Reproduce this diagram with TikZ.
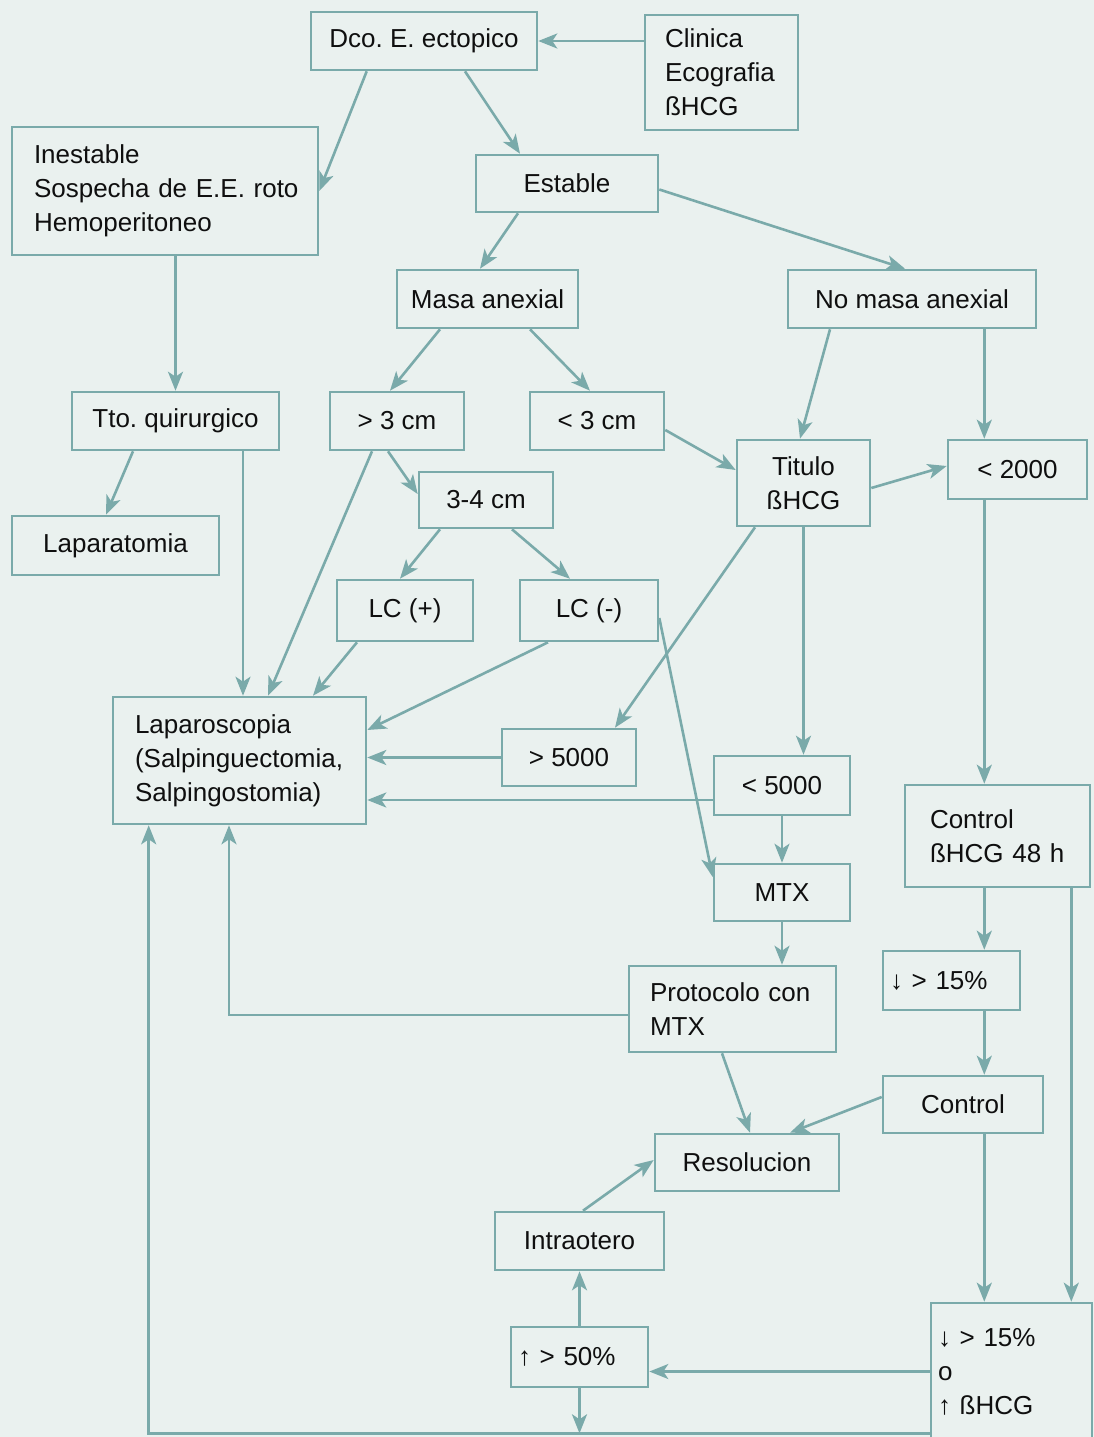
\documentclass[tikz,border=0pt]{standalone}
\usepackage{fontspec}
\setmainfont{Liberation Sans}
\usetikzlibrary{arrows.meta,calc}
\definecolor{bgc}{RGB}{234,241,239}
\definecolor{lnc}{RGB}{122,170,170}
\definecolor{txc}{RGB}{15,15,15}
\frenchspacing
\hfuzz=200pt
\tikzset{
  box/.style={draw=lnc, line width=2.6pt, fill=bgc, text=txc, font=\fontsize{26}{34}\selectfont, inner sep=0pt},
  lbox/.style={box, align=left},
  arr/.style={draw=lnc, line width=2.6pt, -{Stealth[length=19pt,width=15pt,inset=5pt]}},
}
\begin{document}
\begin{tikzpicture}[x=1pt,y=-1pt]
\fill[bgc] (0,0) rectangle (1094,1437);
\useasboundingbox (0,0) rectangle (1094,1437);

% nodes
\node[box, minimum width=226pt, minimum height=58pt] (dco) at (424,41) {Dco. E. ectopico};
\node[lbox, text width=113pt, inner xsep=20pt, minimum height=115pt] (clin) at (721.5,72.5) {Clinica\\Ecografia\\ßHCG};
\node[lbox, text width=262pt, inner xsep=22pt, minimum height=128pt] (inest) at (165,191) {Inestable\\\mbox{Sospecha de E.E. roto}\\Hemoperitoneo};
\node[box, minimum width=182pt, minimum height=57pt] (est) at (567,183.5) {Estable};
\node[box, minimum width=181pt, minimum height=58pt] (masa) at (487.5,299) {Masa anexial};
\node[box, minimum width=248pt, minimum height=58pt] (nomasa) at (912,299) {No masa anexial};
\node[box, minimum width=207pt, minimum height=58pt] (tto) at (175.5,421) {Tto. quirurgico};
\node[box, minimum width=134pt, minimum height=58pt] (gt3) at (397,421) {> 3 cm};
\node[box, minimum width=134pt, minimum height=58pt] (lt3) at (597,421) {< 3 cm};
\node[box, align=center, minimum width=133pt, minimum height=86pt] (tit) at (803.5,483) {Titulo\\ßHCG};
\node[box, minimum width=139pt, minimum height=59pt] (lt2000) at (1017.5,469.5) {< 2000};
\node[box, minimum width=134pt, minimum height=56pt] (cm34) at (486,500) {3-4 cm};
\node[box, minimum width=207pt, minimum height=59pt] (lapt) at (115.5,545.5) {Laparatomia};
\node[box, minimum width=136pt, minimum height=61pt] (lcp) at (405,610.5) {LC (+)};
\node[box, minimum width=138pt, minimum height=61pt] (lcm) at (589,610.5) {LC (-)};
\node[lbox, text width=209pt, inner xsep=22pt, minimum height=127pt] (laps) at (239.5,760.5) {Laparoscopia\\\mbox{(Salpinguectomia,}\\Salpingostomia)};
\node[box, minimum width=134pt, minimum height=57pt] (gt5) at (569,757.5) {> 5000};
\node[box, minimum width=136pt, minimum height=59pt] (lt5) at (782,785.5) {< 5000};
\node[lbox, text width=135pt, inner xsep=25pt, minimum height=102pt] (c48) at (997.5,836) {Control\\\mbox{ßHCG 48 h}};
\node[box, minimum width=136pt, minimum height=57pt] (mtx) at (782,892.5) {MTX};
\node[lbox, text width=123pt, inner xsep=7pt, minimum height=59pt] (dn15) at (951.5,980.5) {↓ > 15\%};
\node[lbox, text width=165pt, inner xsep=21pt, minimum height=86pt] (prot) at (732.5,1009) {\mbox{Protocolo con}\\MTX};
\node[box, minimum width=160pt, minimum height=57pt] (ctrl) at (963,1104.5) {Control};
\node[box, minimum width=184pt, minimum height=57pt] (res) at (747,1162.5) {Resolucion};
\node[box, minimum width=169pt, minimum height=58pt] (intra) at (579.5,1241) {Intraotero};
\node[lbox, text width=123pt, inner xsep=7pt, minimum height=60pt] (up50) at (579.5,1357) {↑ > 50\%};
\node[lbox, text width=147pt, inner xsep=7pt, minimum height=137pt] (big) at (1011.5,1371.5) {↓ > 15\%\\o\\↑ ßHCG};

% connectors
\draw[arr] (clin.west |- dco.east) -- (dco.east);
\draw[arr] ($(dco.south west)+(57,0)$) -- (inest.east);
\draw[arr] ($(dco.south)+(41,0)$) -- ($(est.north)+(-47,0)$);
\draw[arr] ($(est.east)+(0,6)$) -- ($(nomasa.north)+(-7,0)$);
\draw[arr] ($(est.south)+(-49,0)$) -- ($(masa.north)+(-7.5,0)$);
\draw[arr] (inest.south -| tto.north) -- (tto.north);
\draw[arr] ($(masa.south)+(-47.5,0)$) -- ($(gt3.north)+(-7,0)$);
\draw[arr] ($(masa.south)+(42.5,0)$) -- ($(lt3.north)+(-7,0)$);
\draw[arr] ($(nomasa.south)+(-82,0)$) -- ($(tit.north)+(-3.5,0)$);
\coordinate (r1) at ($(nomasa.south east)+(-53,0)$);
\draw[arr] (r1) -- (r1 |- lt2000.north);
\draw[arr] ($(tto.south)+(-42.5,0)$) -- ($(lapt.north)+(-9.5,0)$);
\coordinate (t1) at ($(tto.south)+(67.5,0)$);
\draw[arr] (t1) -- (t1 |- laps.north);
\draw[arr] ($(gt3.south)+(-25,0)$) -- ($(laps.north)+(28.5,0)$);
\draw[arr] ($(gt3.south)+(-9,0)$) -- ($(cm34.west)+(0,-6)$);
\draw[arr] ($(lt3.east)+(0,9)$) -- ($(tit.west)+(0,-13)$);
\draw[arr] ($(tit.east)+(0,5)$) -- ($(lt2000.west)+(0,-3.5)$);
\draw[arr] ($(cm34.south)+(-46,0)$) -- ($(lcp.north)+(-5,0)$);
\draw[arr] ($(cm34.south)+(26,0)$) -- ($(lcm.north)+(-19,0)$);
\draw[arr] ($(lcp.south)+(-48,0)$) -- ($(laps.north)+(73.5,0)$);
\draw[arr] ($(lcm.south)+(-41,0)$) -- ($(laps.east)+(0,-30.5)$);
\draw[arr] ($(lcm.east)+(0,7.5)$) -- ($(mtx.west)+(0,-15.5)$);
\draw[arr] ($(tit.south)+(-48.5,0)$) -- ($(gt5.north)+(46,0)$);
\draw[arr] (tit.south) -- (tit.south |- lt5.north);
\draw[arr] (gt5.west) -- (gt5.west -| laps.east);
\coordinate (l5) at ($(lt5.west)+(0,14.5)$);
\draw[arr] (l5) -- (l5 -| laps.east);
\draw[arr] (lt5.south) -- (mtx.north);
\draw[arr] (r1 |- lt2000.south) -- (r1 |- c48.north);
\draw[arr] (mtx.south) -- (mtx.south |- prot.north);
\coordinate (p1) at ($(prot.west)+(0,6)$);
\draw[arr] (p1) -| ($(laps.south)+(-10.5,0)$);
\draw[arr] ($(prot.south)+(-10.5,0)$) -- ($(res.north)+(3,0)$);
\draw[arr] (r1 |- c48.south) -- (r1 |- dn15.north);
\coordinate (c1) at ($(c48.south east)+(-20,0)$);
\draw[arr] (c1) -- (c1 |- big.north);
\draw[arr] (r1 |- dn15.south) -- (r1 |- ctrl.north);
\draw[arr] ($(ctrl.west)+(0,-7.5)$) -- ($(res.north)+(43,0)$);
\draw[arr] (r1 |- ctrl.south) -- (r1 |- big.north);
\draw[arr] (big.west) -- (big.west -| up50.east);
\draw[arr] (up50.north) -- (intra.south);
\draw[arr] ($(intra.north)+(3.5,0)$) -- ($(res.west)+(0,-2.5)$);
\coordinate (b1) at ($(big.south west)+(0,-8)$);
\draw[arr] (b1) -| ($(laps.south west)+(37,0)$);
\draw[arr] (up50.south) -- (up50.south |- b1);
\end{tikzpicture}
\end{document}
